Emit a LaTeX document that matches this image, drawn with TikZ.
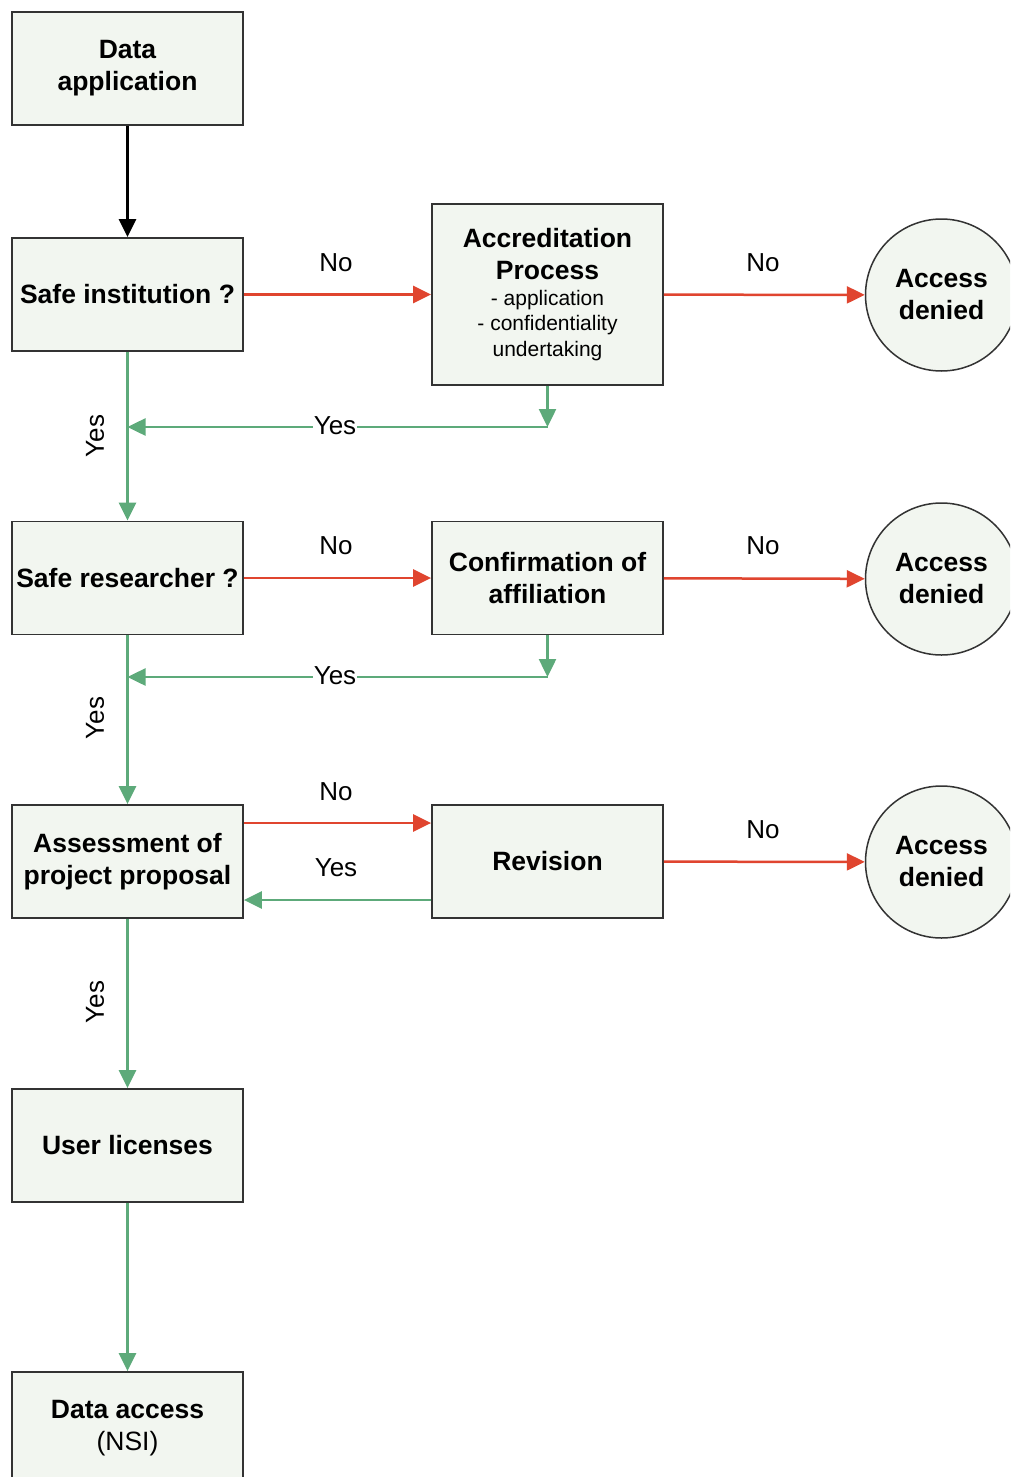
\documentclass[tikz,border=0pt]{standalone}
\usepackage{fontspec}
\setmainfont{Liberation Sans}
\usetikzlibrary{arrows.meta}
\definecolor{boxfill}{HTML}{F2F6F0}
\definecolor{nored}{HTML}{E0452F}
\definecolor{yesgreen}{HTML}{5DAA7A}
\definecolor{edgegray}{HTML}{333333}
\newcommand\subfnt{\fontsize{21}{25.5}\selectfont\mdseries}
\begin{document}
\begin{tikzpicture}[x=1pt,y=-1pt,
  box/.style={draw=edgegray,line width=1.8pt,fill=boxfill,minimum width=231pt,minimum height=113pt,inner sep=0pt,align=center,font=\fontsize{26.5}{32}\selectfont\bfseries},
  endc/.style={circle,draw=edgegray,line width=1.5pt,fill=boxfill,minimum size=152pt,inner sep=0pt,align=center,font=\fontsize{26.5}{32}\selectfont\bfseries},
  tipstyle/.style={-{Triangle[length=18pt,width=17pt]}},
  blackarr/.style={draw=black,line width=2.5pt,tipstyle},
  noarr/.style={draw=nored,line width=2.5pt,tipstyle},
  yesarr/.style={draw=yesgreen,line width=2.5pt,tipstyle},
  lbl/.style={font=\fontsize{26}{30}\selectfont,inner sep=1pt},
  lblw/.style={lbl,fill=white}
]
\clip (0,0) rectangle (1010,1477);
\fill[white] (0,0) rectangle (1010,1477);

% left column
\node[box] (da) at (127.5,68.5) {Data\\application};
\node[box] (si) at (127.5,294.5) {Safe institution ?};
\node[box] (sr) at (127.5,578) {Safe researcher ?};
\node[box] (ap) at (127.5,861.5) {Assessment of\\project proposal};
\node[box] (ul) at (127.5,1145.5) {User licenses};
\node[box] (dacc) at (127.5,1428.5) {Data access\\\mdseries (NSI)};

% middle column
\node[box,minimum height=181pt] (acc) at (547.5,294.5)
  {Accreditation\\Process\\[-6pt]\subfnt - application\\[-6.5pt]\subfnt - confidentiality\\[-6.5pt]\subfnt undertaking};
\node[box] (conf) at (547.5,578) {Confirmation of\\affiliation};
\node[box] (rev) at (547.5,861.5) {Revision};

% end circles
\node[endc] (c1) at (941.5,295) {Access\\denied};
\node[endc] (c2) at (941.5,579) {Access\\denied};
\node[endc] (c3) at (941.5,862) {Access\\denied};

% junction coordinates
\coordinate (j1) at (547.5,427);
\coordinate (j2) at (547.5,677);

% connectors
\draw[blackarr] (da) -- (si);

\draw[noarr] (si) -- (acc);
\draw[noarr] (acc) -- (c1);
\draw[yesarr] (acc.south) -- (j1);
\draw[yesarr] (j1) -- (si.south |- j1);
\draw[yesarr] (si) -- (sr);

\draw[noarr] (sr) -- (conf);
\draw[noarr] (conf) -- (c2);
\draw[yesarr] (conf.south) -- (j2);
\draw[yesarr] (j2) -- (sr.south |- j2);
\draw[yesarr] (sr) -- (ap);

\draw[noarr] (ap.east |- 0,823) -- (rev.west |- 0,823);
\draw[yesarr] (rev.west |- 0,900) -- (ap.east |- 0,900);
\draw[noarr] (rev) -- (c3);
\draw[yesarr] (ap) -- (ul);
\draw[yesarr] (ul) -- (dacc);

% labels
\node[lbl] (n1) at (336,263) {No};
\node[lbl] (n2) at (763,263) {No};
\node[lbl] (n3) at (336,546) {No};
\node[lbl] (n4) at (763,546) {No};
\node[lbl] (n5) at (336,792) {No};
\node[lbl] (n6) at (763,830) {No};
\node[lbl] (y5) at (336,868) {Yes};
\node[lblw] (y1) at (335,426) {Yes};
\node[lblw] (y2) at (335,676) {Yes};
\node[lbl,rotate=90] (v1) at (95,436) {Yes};
\node[lbl,rotate=90] (v2) at (95,718) {Yes};
\node[lbl,rotate=90] (v3) at (95,1002) {Yes};
\end{tikzpicture}
\end{document}
